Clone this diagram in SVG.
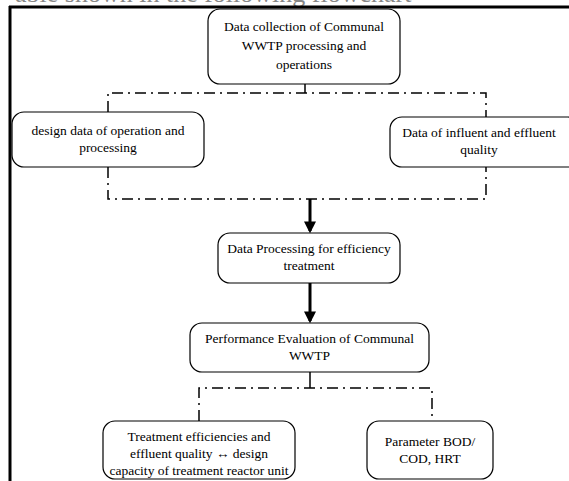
<svg xmlns="http://www.w3.org/2000/svg" width="569" height="481" viewBox="0 0 569 481">
<defs>
<style>
.box{fill:#fff;stroke:#000;stroke-width:1.2}
.t{font-family:'Liberation Serif','Times New Roman',serif;font-size:13.5px;fill:#000;text-anchor:middle}
.dd{fill:none;stroke:#000;stroke-width:1.5;stroke-dasharray:11 5 2 5}
.solid{fill:none;stroke:#000;stroke-width:1.5}
.thick{fill:none;stroke:#000;stroke-width:3}
</style>
<marker id="ah" markerWidth="4" markerHeight="4" refX="3.2" refY="2" orient="auto" markerUnits="strokeWidth">
<path d="M0,0 L4,2 L0,4 Z" fill="#000"/>
</marker>
</defs>
<rect width="569" height="481" fill="#fff"/>
<text x="15" y="1.5" font-family="Liberation Serif, serif" font-size="26" fill="#888">able shown in the following flowchart</text>
<g id="frame">
<line x1="9" y1="7" x2="569" y2="7" class="thick"/>
<line x1="10" y1="6" x2="10" y2="481" class="thick"/>
</g>
<g id="connectors">
<line x1="305" y1="84" x2="305" y2="93" class="solid"/>
<polyline points="108,112 108,93 486,93 486,117" class="dd"/>
<polyline points="108,167 108,199 486,199 486,167" class="dd"/>
<line x1="310" y1="199" x2="310" y2="231" class="thick" marker-end="url(#ah)"/>
<line x1="310" y1="283" x2="310" y2="321" class="thick" marker-end="url(#ah)"/>
<line x1="310" y1="372" x2="310" y2="388" class="solid"/>
<polyline points="199,421 199,388 432,388 432,421" class="dd"/>
</g>
<g id="n1">
<rect x="208" y="9" width="192" height="75" rx="12" class="box"/>
<text x="304" y="31" class="t" font-family="Liberation Serif, serif">Data collection of Communal</text>
<text x="304" y="50" class="t" font-family="Liberation Serif, serif">WWTP processing and</text>
<text x="304" y="69" class="t" font-family="Liberation Serif, serif">operations</text>
</g>
<g id="n2">
<rect x="12" y="112" width="192" height="55" rx="12" class="box"/>
<text x="108" y="135" class="t" font-family="Liberation Serif, serif">design data of operation and</text>
<text x="108" y="152" class="t" font-family="Liberation Serif, serif">processing</text>
</g>
<g id="n3">
<rect x="390" y="117" width="190" height="50" rx="12" class="box"/>
<text x="479" y="137" class="t" font-family="Liberation Serif, serif">Data of influent and effluent</text>
<text x="479" y="154" class="t" font-family="Liberation Serif, serif">quality</text>
</g>
<g id="n4">
<rect x="218" y="233" width="182" height="50" rx="12" class="box"/>
<text x="309" y="253" class="t" font-family="Liberation Serif, serif">Data Processing for efficiency</text>
<text x="309" y="270" class="t" font-family="Liberation Serif, serif">treatment</text>
</g>
<g id="n5">
<rect x="190" y="323" width="239" height="49" rx="12" class="box"/>
<text x="309.5" y="343" class="t" font-family="Liberation Serif, serif">Performance Evaluation of Communal</text>
<text x="309.5" y="360" class="t" font-family="Liberation Serif, serif">WWTP</text>
</g>
<g id="n6">
<rect x="103" y="421" width="192" height="58" rx="12" class="box"/>
<text x="199" y="441" class="t" font-family="Liberation Serif, serif">Treatment efficiencies and</text>
<text x="199" y="458" class="t" font-family="Liberation Serif, serif">effluent quality  ↔ design</text>
<text x="199" y="475" class="t" font-family="Liberation Serif, serif">capacity of treatment reactor unit</text>
</g>
<g id="n7">
<rect x="367" y="421" width="126" height="58" rx="12" class="box"/>
<text x="430" y="446" class="t" font-family="Liberation Serif, serif">Parameter BOD/</text>
<text x="430" y="463" class="t" font-family="Liberation Serif, serif">COD, HRT</text>
</g>
</svg>
